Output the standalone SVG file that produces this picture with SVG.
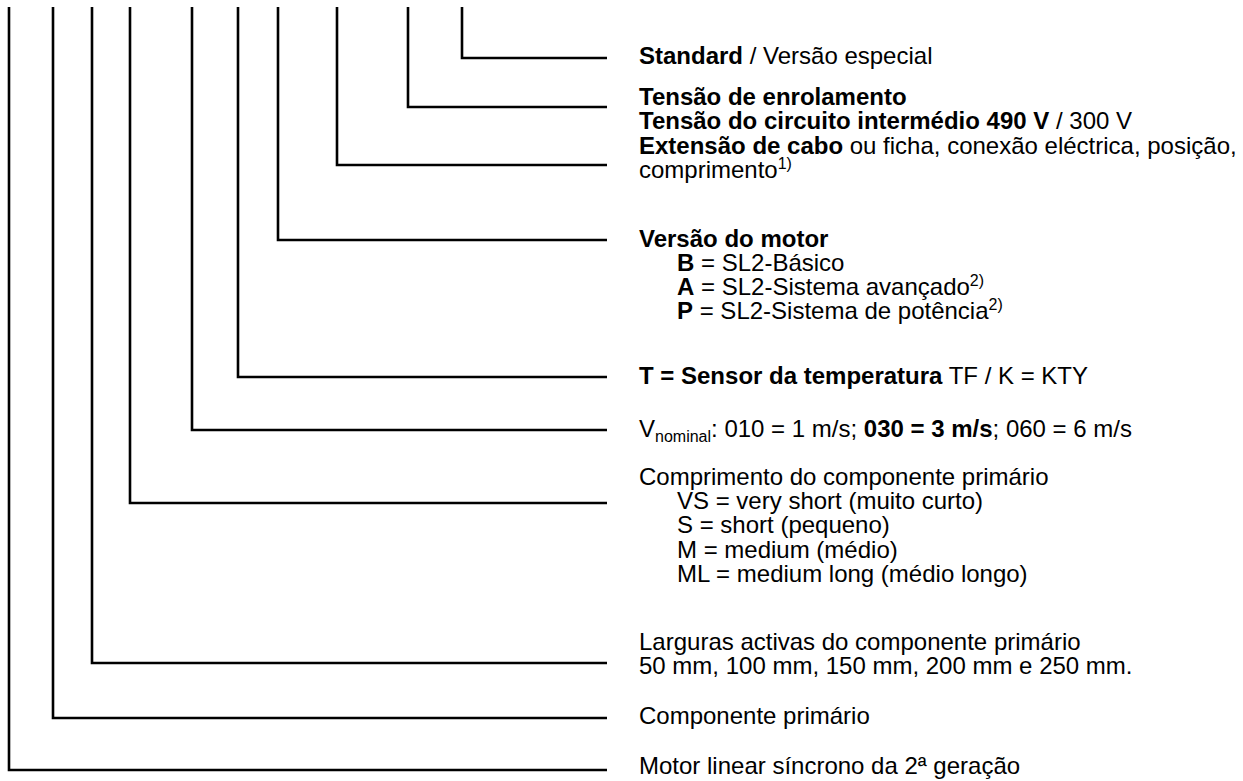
<svg xmlns="http://www.w3.org/2000/svg" width="1243" height="781" viewBox="0 0 1243 781">
<style>
.ln{fill:none;stroke:#000;stroke-width:2.6}
text{font-family:"Liberation Sans",Arial,sans-serif;font-size:24px;fill:#000}
.b{font-weight:bold}
.sup{font-size:16px}
</style>
<rect width="1243" height="781" fill="#fff"/>
<g id="connectors">
<polyline class="ln" points="462,7 462,58 607,58"/>
<polyline class="ln" points="408,7 408,107 607,107"/>
<polyline class="ln" points="337,7 337,165 607,165"/>
<polyline class="ln" points="278,7 278,240 607,240"/>
<polyline class="ln" points="238,7 238,377 607,377"/>
<polyline class="ln" points="192,7 192,430 607,430"/>
<polyline class="ln" points="130,7 130,503 607,503"/>
<polyline class="ln" points="92,7 92,663 607,663"/>
<polyline class="ln" points="53,7 53,718 607,718"/>
<polyline class="ln" points="9,7 9,770 607,770"/>
</g>
<g id="n-standard"><text x="639" y="64"><tspan class="b">Standard</tspan> / Versão especial</text></g>
<g id="n-tensao">
<text x="639" y="105" class="b">Tensão de enrolamento</text>
<text x="639" y="129"><tspan class="b">Tensão do circuito intermédio 490 V</tspan> / 300 V</text>
</g>
<g id="n-cabo">
<text x="639" y="154"><tspan class="b">Extensão de cabo</tspan> ou ficha, conexão eléctrica, posição,</text>
<text x="639" y="178">comprimento<tspan class="sup" dy="-9">1)</tspan></text>
</g>
<g id="n-versao">
<text x="639" y="247" class="b">Versão do motor</text>
<text x="677" y="271"><tspan class="b">B</tspan> = SL2-Básico</text>
<text x="677" y="295"><tspan class="b">A</tspan> = SL2-Sistema avançado<tspan class="sup" dy="-9">2)</tspan></text>
<text x="677" y="319"><tspan class="b">P</tspan> = SL2-Sistema de potência<tspan class="sup" dy="-9">2)</tspan></text>
</g>
<g id="n-sensor"><text x="639" y="384"><tspan class="b">T = Sensor da temperatura</tspan> TF / K = KTY</text></g>
<g id="n-vnominal"><text x="639" y="437">V<tspan class="sup" dy="5">nominal</tspan><tspan dy="-5">: 010 = 1 m/s; </tspan><tspan class="b">030 = 3 m/s</tspan>; 060 = 6 m/s</text></g>
<g id="n-comprimento">
<text x="639" y="485">Comprimento do componente primário</text>
<text x="677" y="509">VS = very short (muito curto)</text>
<text x="677" y="533">S = short (pequeno)</text>
<text x="677" y="558">M = medium (médio)</text>
<text x="677" y="582">ML = medium long (médio longo)</text>
</g>
<g id="n-larguras">
<text x="639" y="650">Larguras activas do componente primário</text>
<text x="639" y="674">50 mm, 100 mm, 150 mm, 200 mm e 250 mm.</text>
</g>
<g id="n-componente"><text x="639" y="724">Componente primário</text></g>
<g id="n-motor"><text x="639" y="774">Motor linear síncrono da 2ª geração</text></g>
</svg>
